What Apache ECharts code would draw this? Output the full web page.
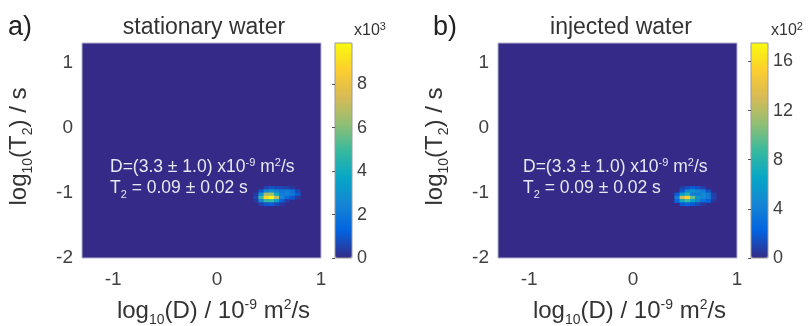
<!DOCTYPE html>
<html>
<head>
<meta charset="utf-8">
<script src="https://cdn.jsdelivr.net/npm/echarts@6/dist/echarts.min.js"></script>
<style>
  html, body { margin: 0; padding: 0; background: #ffffff; }
  #chart { width: 811px; height: 326px; }
</style>
</head>
<body>
<div id="chart"></div>
<script>
// D-T2 correlation maps of water: amplitude on a log10(D) x log10(T2) grid.
// Grid cells are 0.05 decades wide in both directions.
const dMin = -1.3, dMax = 1.0, tMin = -2.0, tMax = 1.3, cellStep = 0.05;

// Cell centres of the window that holds the peak (all other cells are zero)
const peakLogD = [0.375, 0.425, 0.475, 0.525, 0.575, 0.625, 0.675, 0.725, 0.775];
const peakLogT2 = [-0.925, -0.975, -1.025, -1.075, -1.125, -1.175];

// Amplitudes, rows follow peakLogT2, columns follow peakLogD
// stationary water, in units of 10^3
const ampStationary = [
  [0.0, 0.0, 0.6, 0.9, 0.7, 0.6, 0.5, 0.3, 0.0],
  [0.0, 1.0, 2.4, 3.0, 2.4, 2.0, 2.2, 1.8, 0.6],
  [0.4, 3.0, 6.5, 6.5, 4.0, 2.2, 2.4, 2.0, 1.0],
  [0.6, 5.0, 9.0, 9.8, 7.0, 2.5, 1.5, 1.0, 0.3],
  [0.3, 2.5, 4.8, 5.0, 3.5, 1.2, 0.4, 0.0, 0.0],
  [0.0, 0.5, 1.0, 1.1, 0.7, 0.3, 0.0, 0.0, 0.0]
];
// injected water, in units of 10^2
const ampInjected = [
  [0.0, 0.0, 0.8, 1.5, 2.0, 1.5, 0.8, 0.0, 0.0],
  [0.0, 0.0, 1.8, 4.5, 5.5, 4.5, 3.8, 1.5, 0.0],
  [0.0, 2.0, 6.0, 8.0, 4.0, 3.8, 4.8, 3.8, 0.8],
  [0.0, 4.0, 13.0, 15.5, 10.0, 5.5, 4.5, 3.8, 1.0],
  [0.0, 2.5, 7.0, 9.0, 6.5, 4.5, 3.2, 2.2, 0.5],
  [0.0, 0.0, 1.8, 2.2, 1.8, 1.2, 0.6, 0.0, 0.0]
];

// Colour-bar ranges and tick labels
const scaleMaxStationary = 9.9, scaleStepStationary = 2;
const scaleMaxInjected = 17.5, scaleStepInjected = 4;
const dTicks = [-1, 0, 1];
const t2Ticks = [-2, -1, 0, 1];

const parula = ['#352a87', '#0363e1', '#1485d4', '#06a7c6', '#38b99e',
                '#92bf73', '#d9ba56', '#fcce2e', '#f9fb0e'];
const FONT = 'Liberation Sans, Arial, sans-serif';

// category cells along each axis
const nD = Math.round((dMax - dMin) / cellStep);
const nT = Math.round((tMax - tMin) / cellStep);
const dCells = [], tCells = [];
for (let k = 0; k < nD; k++) dCells.push((dMin + cellStep * (k + 0.5)).toFixed(3));
for (let j = 0; j < nT; j++) tCells.push((tMin + cellStep * (j + 0.5)).toFixed(3));

function toCells(amp) {
  const out = [];
  amp.forEach((row, r) => {
    row.forEach((v, c) => {
      if (v <= 0) return;
      const xi = Math.round((peakLogD[c] - dMin) / cellStep - 0.5);
      const yi = Math.round((peakLogT2[r] - tMin) / cellStep - 0.5);
      out.push([xi, yi, v]);
    });
  });
  return out;
}

const plotW = 239, plotH = 215, plotTop = 43;
const panels = [
  { left: 82, barLeft: 335 },
  { left: 498, barLeft: 751 }
];

const axisText = { fontFamily: FONT, color: '#404040' };
const titleRich = {
  t: { fontFamily: FONT, fontSize: 24, color: '#333', lineHeight: 32 },
  s: { fontFamily: FONT, fontSize: 14, color: '#333', lineHeight: 14, verticalAlign: 'bottom' },
  p: { fontFamily: FONT, fontSize: 14, color: '#333', lineHeight: 14, verticalAlign: 'top', padding: [3, 0, 0, 0] }
};

const grid = [], xAxis = [], yAxis = [];
panels.forEach((p, i) => {
  grid.push({ left: p.left, top: plotTop, width: plotW, height: plotH, outerBoundsMode: 'none',
    containLabel: false,
    show: true, backgroundColor: parula[0], borderColor: '#b4b4cf', borderWidth: 1 });
});
panels.forEach((p, i) => {
  grid.push({ left: p.barLeft, top: plotTop, width: 17, height: plotH, outerBoundsMode: 'none',
    containLabel: false,
    show: true, backgroundColor: 'transparent', borderColor: '#9a9a9a', borderWidth: 1, z: 6 });
});

// hidden category axes carrying the heat-map cells
panels.forEach((p, i) => {
  xAxis.push({ type: 'category', gridIndex: i, data: dCells, show: false });
  yAxis.push({ type: 'category', gridIndex: i, data: tCells, show: false });
});
// visible value axes
panels.forEach((p, i) => {
  xAxis.push({
    type: 'value', gridIndex: i, min: dMin, max: dMax, position: 'bottom',
    axisLine: { show: false }, axisTick: { show: false }, splitLine: { show: false },
    axisLabel: Object.assign({ fontSize: 19, margin: 12, customValues: dTicks }, axisText),
    name: '{t|log}{s|10}{t|(D) / 10}{p|-9}{t| m}{p|2}{t|/s}',
    nameLocation: 'middle', nameGap: 37,
    nameTextStyle: { rich: titleRich, padding: [0, 0, 0, 24] }
  });
  yAxis.push({
    type: 'value', gridIndex: i, min: tMin, max: tMax, position: 'left',
    axisLine: { show: false }, axisTick: { show: false }, splitLine: { show: false },
    axisLabel: Object.assign({ fontSize: 19, margin: 9, customValues: t2Ticks }, axisText),
    name: '{t|log}{s|10}{t|(T}{s|2}{t|) / s}',
    nameLocation: 'middle', nameGap: 47, nameRotate: 90,
    nameTextStyle: { rich: titleRich, padding: [0, 0, 0, 8] }
  });
});
// colour-bar axes
[[scaleMaxStationary, scaleStepStationary], [scaleMaxInjected, scaleStepInjected]].forEach((s, i) => {
  xAxis.push({ type: 'value', gridIndex: 2 + i, show: false, min: 0, max: 1 });
  yAxis.push({
    type: 'value', gridIndex: 2 + i, position: 'right', min: 0, max: s[0], interval: s[1], z: 8,
    axisLine: { show: false }, splitLine: { show: false },
    axisTick: { show: true, inside: true, length: 3, lineStyle: { color: '#555' } },
    axisLabel: Object.assign({ fontSize: 18, margin: 5, showMaxLabel: false,
      formatter: v => (Math.abs(v / s[1] - Math.round(v / s[1])) < 1e-6 ? String(v) : '') }, axisText)
  });
});

const noteRich = {
  t: { fontFamily: FONT, fontSize: 17.5, fill: '#e8e8f2', lineHeight: 24 },
  p: { fontFamily: FONT, fontSize: 11, fill: '#e8e8f2', lineHeight: 11, verticalAlign: 'top', padding: [2, 0, 0, 0] },
  s: { fontFamily: FONT, fontSize: 11, fill: '#e8e8f2', lineHeight: 11, verticalAlign: 'bottom' }
};
const smallRich = {
  t: { fontFamily: FONT, fontSize: 16, fill: '#333', lineHeight: 20 },
  p: { fontFamily: FONT, fontSize: 11, fill: '#333', lineHeight: 11, verticalAlign: 'top' }
};

function txt(x, y, text, opts) {
  return { type: 'text', x: x, y: y, z: 20,
    style: Object.assign({ text: text, fontFamily: FONT, verticalAlign: 'middle' }, opts) };
}

const graphic = [
  txt(8, 28, 'a)', { fontSize: 27, fill: '#222' }),
  txt(433, 28, 'b)', { fontSize: 27, fill: '#222' }),
  txt(204, 28, 'stationary water', { fontSize: 23, fill: '#333', align: 'center' }),
  txt(621, 28, 'injected water', { fontSize: 23, fill: '#333', align: 'center' }),
  txt(354, 31, '{t|x10}{p|3}', { rich: smallRich }),
  txt(771, 31, '{t|x10}{p|2}', { rich: smallRich })
];
[110, 523].forEach(x0 => {
  graphic.push(txt(x0, 167, '{t|D=(3.3 ± 1.0) x10}{p|-9}{t| m}{p|2}{t|/s}', { rich: noteRich }));
  graphic.push(txt(x0, 188, '{t|T}{s|2}{t| = 0.09 ± 0.02 s}', { rich: noteRich }));
});

const option = {
  animation: false,
  backgroundColor: '#ffffff',
  textStyle: { fontFamily: FONT },
  grid: grid,
  xAxis: xAxis,
  yAxis: yAxis,
  visualMap: [
    { type: 'continuous', seriesIndex: 0, min: 0, max: scaleMaxStationary,
      left: panels[0].barLeft, top: plotTop, itemWidth: 17, itemHeight: plotH,
      padding: 0, calculable: false, hoverLink: false, text: null, showLabel: false,
      inRange: { color: parula } },
    { type: 'continuous', seriesIndex: 1, min: 0, max: scaleMaxInjected,
      left: panels[1].barLeft, top: plotTop, itemWidth: 17, itemHeight: plotH,
      padding: 0, calculable: false, hoverLink: false, text: null, showLabel: false,
      inRange: { color: parula } }
  ],
  series: [
    { type: 'heatmap', xAxisIndex: 0, yAxisIndex: 0, data: toCells(ampStationary) },
    { type: 'heatmap', xAxisIndex: 1, yAxisIndex: 1, data: toCells(ampInjected) }
  ],
  graphic: graphic
};

const chart = echarts.init(document.getElementById('chart'), null, { renderer: 'canvas' });
chart.setOption(option);
</script>
</body>
</html>
